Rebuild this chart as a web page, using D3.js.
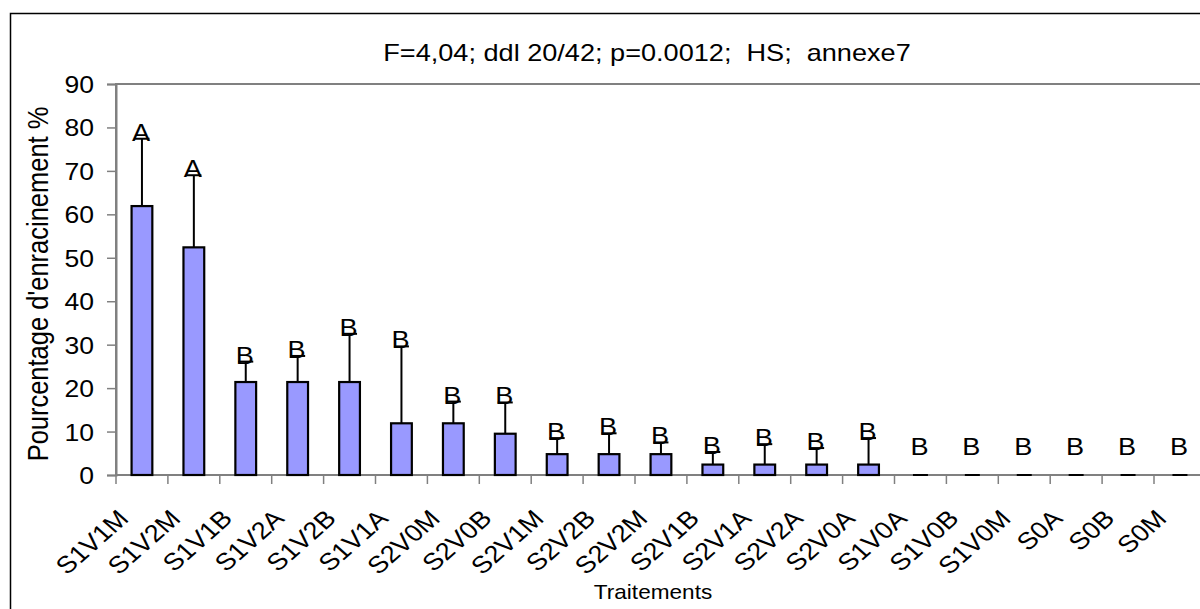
<!DOCTYPE html>
<html>
<head>
<meta charset="utf-8">
<script src="https://cdn.jsdelivr.net/npm/d3@7"></script>
<style>
  html, body { margin: 0; padding: 0; background: #fff; }
  svg { display: block; }
  text { font-family: "Liberation Sans", Arial, sans-serif; fill: #000; }
</style>
</head>
<body>
<svg id="chart" width="1200" height="609"></svg>
<script>
// ---- data ----
const categories = ["S1V1M","S1V2M","S1V1B","S1V2A","S1V2B","S1V1A","S2V0M","S2V0B","S2V1M","S2V2B","S2V2M","S2V1B","S2V1A","S2V2A","S2V0A","S1V0A","S1V0B","S1V0M","S0A","S0B","S0M"];
const means = [61.9, 52.4, 21.4, 21.4, 21.4, 11.9, 11.9, 9.5, 4.8, 4.8, 4.8, 2.4, 2.4, 2.4, 2.4, 0, 0, 0, 0, 0, 0];
const errors = [15.5, 16.6, 4.7, 6.0, 11.1, 17.7, 5.0, 7.2, 3.7, 4.8, 2.7, 2.9, 4.7, 3.8, 6.1, 0, 0, 0, 0, 0, 0];
const letters = ["A","A","B","B","B","B","B","B","B","B","B","B","B","B","B","B","B","B","B","B","B"];
const yTicks = [0, 10, 20, 30, 40, 50, 60, 70, 80, 90];
const titleText = "F=4,04; ddl 20/42; p=0.0012;  HS;  annexe7";
const yTitle = "Pourcentage d'enracinement %";
const xTitle = "Traitements";

// ---- layout ----
const svg = d3.select("#chart");
const plotLeft = 116, plotTop = 84, plotBottom = 475;
const band = 51.9;
const plotRight = plotLeft + band * categories.length;
const sx = 1.13; // horizontal stretch of the lettering

const x = d3.scaleBand().domain(categories).range([plotLeft, plotRight]).padding(0);
const y = d3.scaleLinear().domain([0, 90]).range([plotBottom, plotTop]);

const grey = "#808080";

// outer chart border
svg.append("rect").attr("x", 10.5).attr("y", 13.5).attr("width", 1250).attr("height", 650)
  .attr("fill", "#fff").attr("stroke", "#000").attr("stroke-width", 1.5);

// plot area border
svg.append("rect").attr("x", plotLeft).attr("y", plotTop).attr("width", plotRight - plotLeft).attr("height", plotBottom - plotTop)
  .attr("fill", "#fff").attr("stroke", grey).attr("stroke-width", 2);

// title
svg.append("text").attr("transform", `translate(647,61) scale(${sx},1)`)
  .attr("text-anchor", "middle").attr("font-size", 24).style("white-space", "pre")
  .attr("xml:space", "preserve").text(titleText);

// y axis
const yAxis = d3.axisLeft(y).tickValues(yTicks).tickSize(9).tickPadding(12).tickFormat(d3.format("d"));
const gy = svg.append("g").attr("transform", `translate(${plotLeft},0)`).call(yAxis);
gy.select(".domain").attr("stroke", grey).attr("stroke-width", 2);
gy.selectAll(".tick line").attr("stroke", grey).attr("stroke-width", 1.5);
gy.selectAll(".tick text").attr("font-size", 23.5).attr("font-family", "Liberation Sans, Arial, sans-serif").attr("fill", "#000")
  .attr("x", 0).attr("dy", "0.36em").attr("transform", `translate(-22,0) scale(${sx},1)`);

// x axis: ticks at band boundaries
const gx = svg.append("g");
gx.append("line").attr("x1", plotLeft).attr("x2", plotRight).attr("y1", plotBottom).attr("y2", plotBottom)
  .attr("stroke", grey).attr("stroke-width", 2);
gx.selectAll("line.xt").data(d3.range(categories.length + 1)).join("line").attr("class", "xt")
  .attr("x1", i => plotLeft + i * x.step()).attr("x2", i => plotLeft + i * x.step())
  .attr("y1", plotBottom).attr("y2", plotBottom + 9).attr("stroke", grey).attr("stroke-width", 1.5);
gx.selectAll("text.xl").data(categories).join("text").attr("class", "xl")
  .attr("transform", d => `translate(${x(d) + x.bandwidth() / 2 - 12},${plotBottom + 45}) scale(${sx},1) rotate(-45)`)
  .attr("text-anchor", "end").attr("font-size", 24).text(d => d);

// bars
const barW = x.bandwidth() * 0.4;
const data = categories.map((c, i) => ({ c, m: means[i], e: errors[i], l: letters[i] }));
svg.append("g").selectAll("rect").data(data.filter(d => d.m > 0)).join("rect")
  .attr("x", d => x(d.c) + x.bandwidth() / 2 - barW / 2)
  .attr("y", d => y(d.m))
  .attr("width", barW)
  .attr("height", d => y(0) - y(d.m))
  .attr("fill", "#9999FF").attr("stroke", "#000").attr("stroke-width", 2.2);

// error bars
const capW = 15;
const ge = svg.append("g");
ge.selectAll("line.ev").data(data).join("line").attr("class", "ev")
  .attr("x1", d => x(d.c) + x.bandwidth() / 2).attr("x2", d => x(d.c) + x.bandwidth() / 2)
  .attr("y1", d => y(d.m)).attr("y2", d => y(d.m + d.e))
  .attr("stroke", "#000").attr("stroke-width", 2);
ge.selectAll("line.ec").data(data).join("line").attr("class", "ec")
  .attr("x1", d => x(d.c) + x.bandwidth() / 2 - capW / 2).attr("x2", d => x(d.c) + x.bandwidth() / 2 + capW / 2)
  .attr("y1", d => y(d.m + d.e)).attr("y2", d => y(d.m + d.e))
  .attr("stroke", "#000").attr("stroke-width", 2);

// letters
svg.append("g").selectAll("text").data(data).join("text")
  .attr("transform", d => `translate(${x(d.c) + x.bandwidth() / 2 - 1},${Math.min(y(d.m + d.e) + 2, y(4.6))}) scale(${sx},1)`)
  .attr("text-anchor", "middle").attr("font-size", 24).text(d => d.l);

// axis titles
svg.append("text").attr("transform", `translate(48,284) scale(${sx},1) rotate(-90)`)
  .attr("text-anchor", "middle").attr("font-size", 25.5).text(yTitle);
svg.append("text").attr("transform", `translate(653,599) scale(${sx},1)`)
  .attr("text-anchor", "middle").attr("font-size", 20).text(xTitle);
</script>
</body>
</html>
